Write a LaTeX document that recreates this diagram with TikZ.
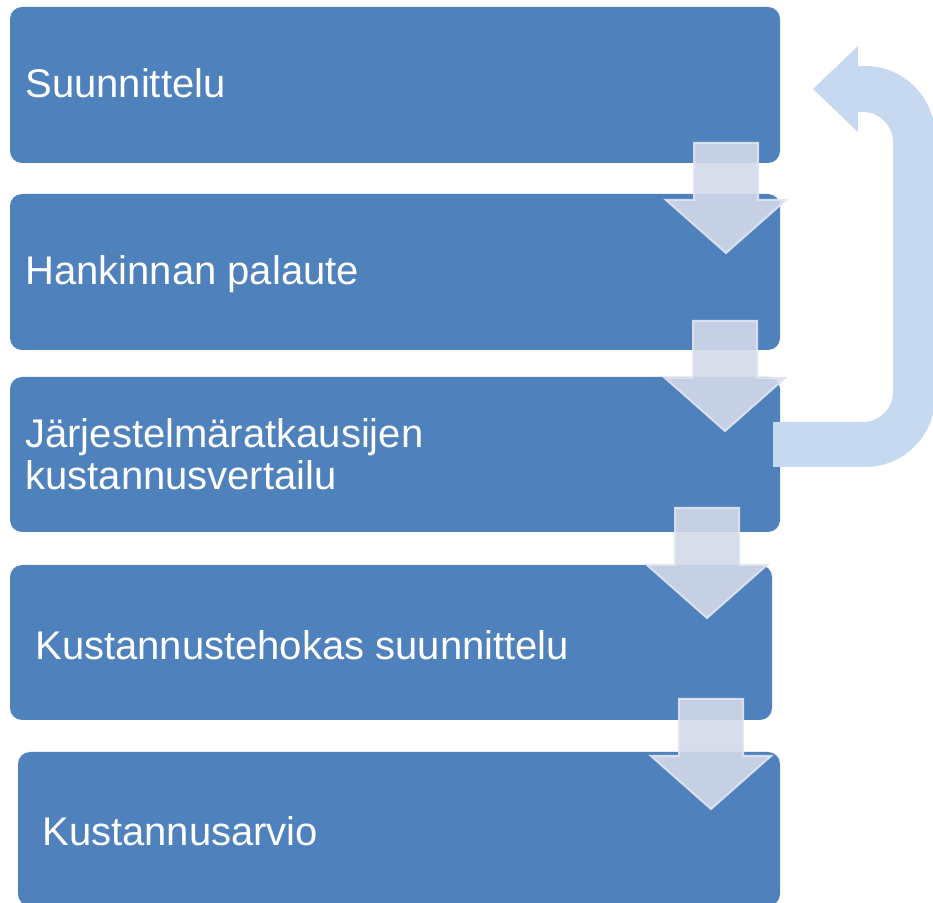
\documentclass[tikz,border=0pt]{standalone}
\usepackage{fontspec}
\setmainfont{Liberation Sans}
\definecolor{stepblue}{RGB}{79,129,189}
\definecolor{arrowfill}{RGB}{211,217,233}
\definecolor{arrowedge}{RGB}{224,229,240}
\definecolor{loopblue}{RGB}{198,217,240}
\tikzset{
  stepbox/.style={rectangle, rounded corners=6pt, fill=stepblue, inner sep=0pt, outer sep=0pt},
  steplabel/.style={anchor=base west, text=white, font=\fontsize{20pt}{21pt}\selectfont, inner sep=0pt, align=left},
  flowarrow/.style={fill=arrowfill, fill opacity=0.9, draw=arrowedge, draw opacity=0.9, line width=1pt, line join=miter},
  pics/dnarrow/.style={code={
    \path[flowarrow] (-32,0) -- (32,0) -- (32,57) -- (60,57) -- (0,110) -- (-60,57) -- (-32,57) -- cycle;
  }}
}
\begin{document}
\begin{tikzpicture}[x=0.5pt, y=-0.5pt]
\useasboundingbox (0,0) rectangle (933,903);

% process steps
\node[stepbox, minimum width=385pt, minimum height=78pt]   (b1) at (395,85)    {};
\node[stepbox, minimum width=385pt, minimum height=78pt]   (b2) at (395,272)   {};
\node[stepbox, minimum width=385pt, minimum height=77.5pt] (b3) at (395,454.5) {};
\node[stepbox, minimum width=381pt, minimum height=77.5pt] (b4) at (391,642.5) {};
\node[stepbox, minimum width=381pt, minimum height=77pt]   (b5) at (399,829)   {};

% step texts
\node[steplabel] (t1) at (25,98)  {Suunnittelu};
\node[steplabel] (t2) at (25,285) {Hankinnan palaute};
\node[steplabel, anchor=west] (t3) at (25,454) {Järjestelmäratkausijen\\kustannusvertailu};
\node[steplabel] (t4) at (35,660) {Kustannustehokas suunnittelu};
\node[steplabel] (t5) at (42,846) {Kustannusarvio};

% downward block arrows between the steps
\pic at (726,143) {dnarrow};
\pic at (725,321) {dnarrow};
\pic at (707,508) {dnarrow};
\pic at (711,699) {dnarrow};

% feedback loop from the comparison back to planning
\fill[loopblue] (773,422) -- (863,422) arc(90:0:30) -- (893,142) arc(0:-90:30)
  -- (858,112) -- (858,132) -- (813,89) -- (858,46) -- (858,66) -- (865,66)
  arc(-90:0:70) -- (935,397) arc(0:90:70) -- (773,467) -- cycle;
\end{tikzpicture}
\end{document}
